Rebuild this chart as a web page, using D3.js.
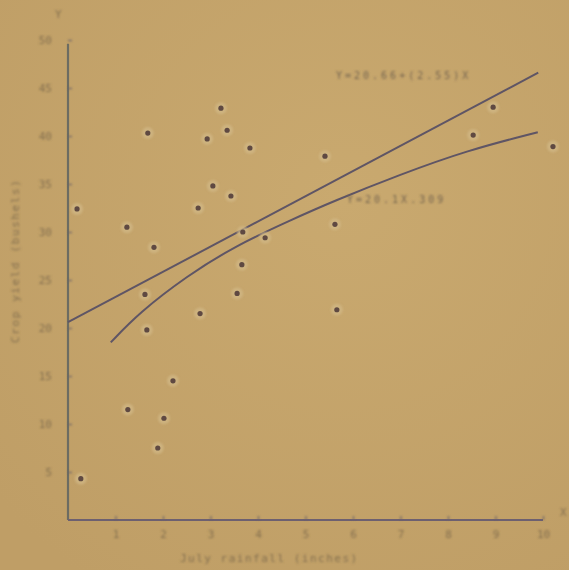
<!DOCTYPE html>
<html>
<head>
<meta charset="utf-8">
<script src="https://cdn.jsdelivr.net/npm/d3@7"></script>
<style>
  body { margin: 0; background: #c3a36c; }
</style>
</head>
<body>
<div id="container"></div>
<script>
// rainfall (x) vs crop yield (y)
let rainfall = [0.19, 1.68, 1.24, 1.81, 1.62, 1.66, 2.21, 1.26, 2.02, 1.89, 0.27,
                3.22, 2.93, 3.35, 3.83, 3.05, 3.43, 2.74, 3.68, 4.15, 3.66, 2.78, 3.56,
                5.41, 5.62, 5.66, 8.53, 8.95, 10.21];
let cropYield = [32.4, 40.3, 30.5, 28.4, 23.5, 19.8, 14.5, 11.5, 10.6, 7.5, 4.3,
                 42.9, 39.7, 40.6, 38.75, 34.8, 33.75, 32.5, 30.0, 29.4, 26.6, 21.5, 23.6,
                 37.9, 30.8, 21.9, 40.1, 43.0, 38.9];

// straight fit, two ends
let lineX = [0, 9.9];
let lineY = [20.6, 46.6];

// curved fit, points
let curveX = [0.9, 1.5, 2.5, 3.5, 4.67, 5.58, 7.0, 8.4, 9.89];
let curveY = [18.5, 21.6, 25.4, 28.5, 31.2, 33.2, 36.0, 38.5, 40.4];

let xTicks = [1, 2, 3, 4, 5, 6, 7, 8, 9, 10];
let yTicks = [5, 10, 15, 20, 25, 30, 35, 40, 45, 50];

let lineLabel = "Y=20.66+(2.55)X";
let curveLabel = "Y=20.1X.309";

let w = 569;
let h = 570;

let viz = d3.select("#container")
  .append("svg")
  .attr("width", w)
  .attr("height", h);

let defs = viz.append("defs");
defs.append("filter").attr("id", "soft")
  .append("feGaussianBlur").attr("stdDeviation", 0.6);
defs.append("filter").attr("id", "blurText")
  .append("feGaussianBlur").attr("stdDeviation", 0.8);
defs.append("filter").attr("id", "softer")
  .append("feGaussianBlur").attr("stdDeviation", 1);

let bg = defs.append("radialGradient").attr("id", "paper")
  .attr("cx", "60%").attr("cy", "35%").attr("r", "80%");
bg.append("stop").attr("offset", "0%").attr("stop-color", "#c9a96f");
bg.append("stop").attr("offset", "100%").attr("stop-color", "#bf9e66");

viz.append("rect").attr("width", w).attr("height", h).attr("fill", "url(#paper)");

let xScale = d3.scaleLinear().domain([0, 10]).range([68, 543]);
let yScale = d3.scaleLinear().domain([0, 50]).range([520, 40]);

let g = viz.append("g").attr("filter", "url(#soft)");
let gt = viz.append("g").attr("filter", "url(#blurText)");

let font = "'DejaVu Sans Mono', 'Liberation Mono', monospace";
let inkText = "#85704f";

// axes lines
g.append("line")
  .attr("x1", xScale(0)).attr("x2", xScale(0))
  .attr("y1", yScale(0)).attr("y2", yScale(49.6))
  .attr("stroke", "#6c6c62").attr("stroke-width", 2.2);
g.append("line")
  .attr("x1", xScale(0)).attr("x2", xScale(10))
  .attr("y1", yScale(0)).attr("y2", yScale(0))
  .attr("stroke", "#6d6070").attr("stroke-width", 2.2);

// ticks
let xAxis = gt.append("g")
  .attr("transform", `translate(0, ${yScale(0)})`)
  .call(d3.axisBottom(xScale).tickValues(xTicks).tickSize(-4).tickPadding(8));
xAxis.select(".domain").remove();
let yAxis = gt.append("g")
  .attr("transform", `translate(${xScale(0)}, 0)`)
  .call(d3.axisLeft(yScale).tickValues(yTicks).tickSize(-4).tickPadding(16));
yAxis.select(".domain").remove();

viz.selectAll(".tick line").attr("stroke", "#6c6468").attr("stroke-width", 1.2);
viz.selectAll(".tick text")
  .attr("fill", inkText)
  .style("font-family", font)
  .style("font-size", "11px");
xAxis.selectAll(".tick text").attr("dy", "0.9em");

// axis letters
gt.append("text").attr("x", 55).attr("y", 18).text("Y")
  .attr("fill", inkText).style("font-family", font).style("font-size", "11px");
gt.append("text").attr("x", 560).attr("y", 516).text("X")
  .attr("fill", inkText).style("font-family", font).style("font-size", "11px");

// titles
gt.append("text")
  .attr("transform", `translate(19, ${yScale(27)}) rotate(-90)`)
  .attr("text-anchor", "middle")
  .attr("fill", inkText)
  .style("font-family", font).style("font-size", "11px")
  .style("letter-spacing", "1.6px")
  .text("Crop yield (bushels)");
gt.append("text")
  .attr("x", 180).attr("y", 562)
  .attr("fill", inkText)
  .style("font-family", font).style("font-size", "11px")
  .style("letter-spacing", "1.5px")
  .text("July rainfall (inches)");

// fits
let lineMaker = d3.line().x(d => xScale(d[0])).y(d => yScale(d[1]));
g.append("path")
  .datum(d3.zip(lineX, lineY))
  .attr("fill", "none").attr("stroke", "#5f5565").attr("stroke-width", 2)
  .attr("d", lineMaker);
g.append("path")
  .datum(d3.zip(curveX, curveY))
  .attr("fill", "none").attr("stroke", "#5f5565").attr("stroke-width", 2)
  .attr("d", lineMaker.curve(d3.curveBasis));

gt.append("text")
  .attr("x", 336).attr("y", 79)
  .attr("fill", "#776650")
  .style("font-family", font).style("font-size", "10px")
  .style("letter-spacing", "3px")
  .text(lineLabel);
gt.append("text")
  .attr("x", 347).attr("y", 203)
  .attr("fill", "#776650")
  .style("font-family", font).style("font-size", "10px")
  .style("letter-spacing", "3px")
  .text(curveLabel);

// points, with the pale halo the scan shows
let pts = d3.zip(rainfall, cropYield);
viz.append("g").attr("filter", "url(#softer)")
  .selectAll("circle")
  .data(pts)
  .enter()
  .append("circle")
  .attr("cx", d => xScale(d[0]))
  .attr("cy", d => yScale(d[1]))
  .attr("r", 6)
  .attr("fill", "#d2b988")
  .attr("opacity", 0.7);
viz.append("g").attr("filter", "url(#soft)")
  .selectAll("circle")
  .data(pts)
  .enter()
  .append("circle")
  .attr("cx", d => xScale(d[0]))
  .attr("cy", d => yScale(d[1]))
  .attr("r", 2.6)
  .attr("fill", "#5e4a42");
</script>
</body>
</html>
